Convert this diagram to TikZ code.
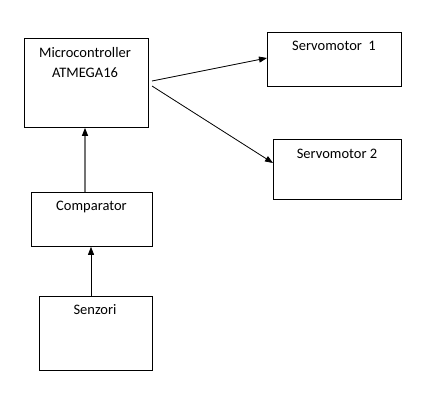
\documentclass[tikz,border=0pt]{standalone}
\usepackage{fontspec}
\setmainfont{Carlito}
\usetikzlibrary{arrows.meta}
\begin{document}
\begin{tikzpicture}[x=1bp,y=-1bp,
  blk/.style={draw=black,line width=0.8bp,inner sep=0pt,anchor=north west},
  lbl/.style={font=\fontsize{14.5bp}{20bp}\selectfont,inner sep=0pt,align=center},
  arr/.style={line width=0.8bp,-{Triangle[length=8bp,width=6bp,color=black]}}]
\useasboundingbox[fill=white] (0,0) rectangle (446,412);
\node[blk,minimum width=124bp,minimum height=89bp] (mc) at (24,38) {};
\node[blk,minimum width=134bp,minimum height=54bp] (s1) at (267,32) {};
\node[blk,minimum width=128bp,minimum height=60bp] (s2) at (273,139) {};
\node[blk,minimum width=121bp,minimum height=54bp] (cmp) at (31,192) {};
\node[blk,minimum width=113bp,minimum height=74bp] (sen) at (39,296) {};
\node[lbl] (tmc) at (85,63) {Microcontroller\\ATMEGA16};
\node[lbl] (ts1) at (334,46) {Servomotor~ 1};
\node[lbl] (ts2) at (337,154) {Servomotor 2};
\node[lbl] (tcmp) at (91.5,207) {Comparator};
\node[lbl] (tsen) at (95,310) {Senzori};
\coordinate (a1) at (152,81);
\coordinate (a2) at (152,86);
\draw[arr] (a1) -- (s1.west |- 0,58);
\draw[arr] (a2) -- (s2.west |- 0,163);
\draw[arr,draw=black!55,line width=1.1bp] (cmp.north -| 85,0) -- (mc.south -| 85,0);
\draw[arr] (sen.north -| 91,0) -- (cmp.south -| 91,0);
\end{tikzpicture}
\end{document}
